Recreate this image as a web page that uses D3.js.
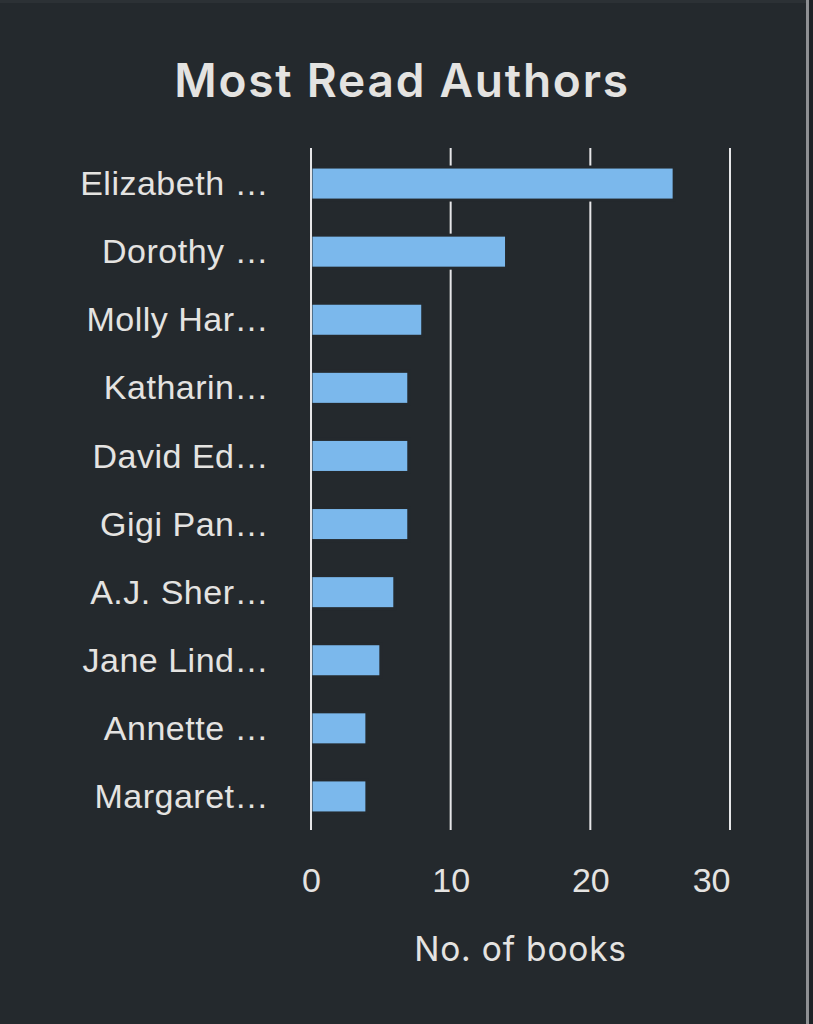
<!DOCTYPE html>
<html>
<head>
  <meta charset="utf-8">
  <title>Most Read Authors</title>
  <script src="https://d3js.org/d3.v7.min.js"></script>
  <style>
    html, body {
      margin: 0;
      padding: 0;
      background: #24292d;
    }
    body {
      width: 813px;
      height: 1024px;
      overflow: hidden;
      font-family: 'Inter', 'Noto Sans', sans-serif;
    }
    #chart text {
      fill: #e4e3e1;
    }
  </style>
</head>
<body>
  <div id="chart"></div>
  <script>
    // data
    const authors = ["Elizabeth …", "Dorothy …", "Molly Har…", "Katharin…", "David Ed…",
                     "Gigi Pan…", "A.J. Sher…", "Jane Lind…", "Annette …", "Margaret…"];
    const books = [26, 14, 8, 7, 7, 7, 6, 5, 4, 4];
    const xTicks = [0, 10, 20, 30];

    const data = authors.map((a, i) => ({ author: a, books: books[i] }));

    const W = 813, H = 1024;
    const margin = { top: 148, left: 311, right: 83, bottom: 194 };
    const width = W - margin.left - margin.right;
    const height = H - margin.top - margin.bottom;

    const svg = d3.select("#chart")
      .append("svg")
      .attr("width", W)
      .attr("height", H);

    // frame bits of the screenshot
    svg.append("rect")
      .attr("x", 0).attr("y", 0)
      .attr("width", W).attr("height", 3)
      .attr("fill", "#2c3135");
    svg.append("rect")
      .attr("x", 806).attr("y", 0)
      .attr("width", 3).attr("height", H)
      .attr("fill", "#8e9093");
    svg.append("rect")
      .attr("x", 809).attr("y", 0)
      .attr("width", 4).attr("height", H)
      .attr("fill", "#1e2226");

    svg.append("text")
      .attr("x", 402)
      .attr("y", 97)
      .attr("text-anchor", "middle")
      .style("font-size", "46px")
      .style("font-weight", 600)
      .style("letter-spacing", "1.8px")
      .text("Most Read Authors");

    const g = svg.append("g")
      .attr("transform", `translate(${margin.left},${margin.top})`);

    const x = d3.scaleLinear()
      .domain([0, 30])
      .range([0, width]);

    const y = d3.scaleBand()
      .domain(authors)
      .range([1, height + 1])
      .paddingInner(0.515)
      .paddingOuter(0.265);

    // grid lines (not the zero line, that one sits on top of the bars)
    g.selectAll(".grid")
      .data(xTicks.filter(t => t !== 0))
      .enter()
      .append("line")
      .attr("class", "grid")
      .attr("x1", d => x(d))
      .attr("x2", d => x(d))
      .attr("y1", 0)
      .attr("y2", height)
      .attr("stroke", "#e6e6e8")
      .attr("stroke-width", 2);

    g.selectAll(".bar")
      .data(data)
      .enter()
      .append("rect")
      .attr("class", "bar")
      .attr("x", x(0))
      .attr("y", d => y(d.author))
      .attr("width", d => x(d.books) - x(0))
      .attr("height", y.bandwidth())
      .attr("fill", "#7bb8ec")
      .attr("stroke", "#24292d")
      .attr("stroke-width", 3);

    g.append("line")
      .attr("x1", x(0))
      .attr("x2", x(0))
      .attr("y1", 0)
      .attr("y2", height)
      .attr("stroke", "#e6e6e8")
      .attr("stroke-width", 2);

    // author labels
    const yAxis = g.append("g")
      .call(d3.axisLeft(y).tickSize(0).tickPadding(42));
    yAxis.select(".domain").remove();
    yAxis.selectAll("text")
      .style("font-size", "34px")
      .style("letter-spacing", "0.5px")
      .attr("fill", null)
      .attr("dy", "0.34em");

    // value axis
    const xAxis = g.append("g")
      .attr("transform", `translate(0,${height})`)
      .call(d3.axisBottom(x).tickValues(xTicks).tickSize(0).tickPadding(0));
    xAxis.select(".domain").remove();
    xAxis.selectAll("text")
      .style("font-size", "34px")
      .attr("fill", null)
      .attr("y", 62)
      .attr("dy", 0)
      .attr("text-anchor", d => d === 30 ? "end" : "middle");

    g.append("text")
      .attr("x", width / 2)
      .attr("y", height + 131)
      .attr("text-anchor", "middle")
      .style("font-size", "33.5px")
      .style("letter-spacing", "0.8px")
      .text("No. of books");
  </script>
</body>
</html>
